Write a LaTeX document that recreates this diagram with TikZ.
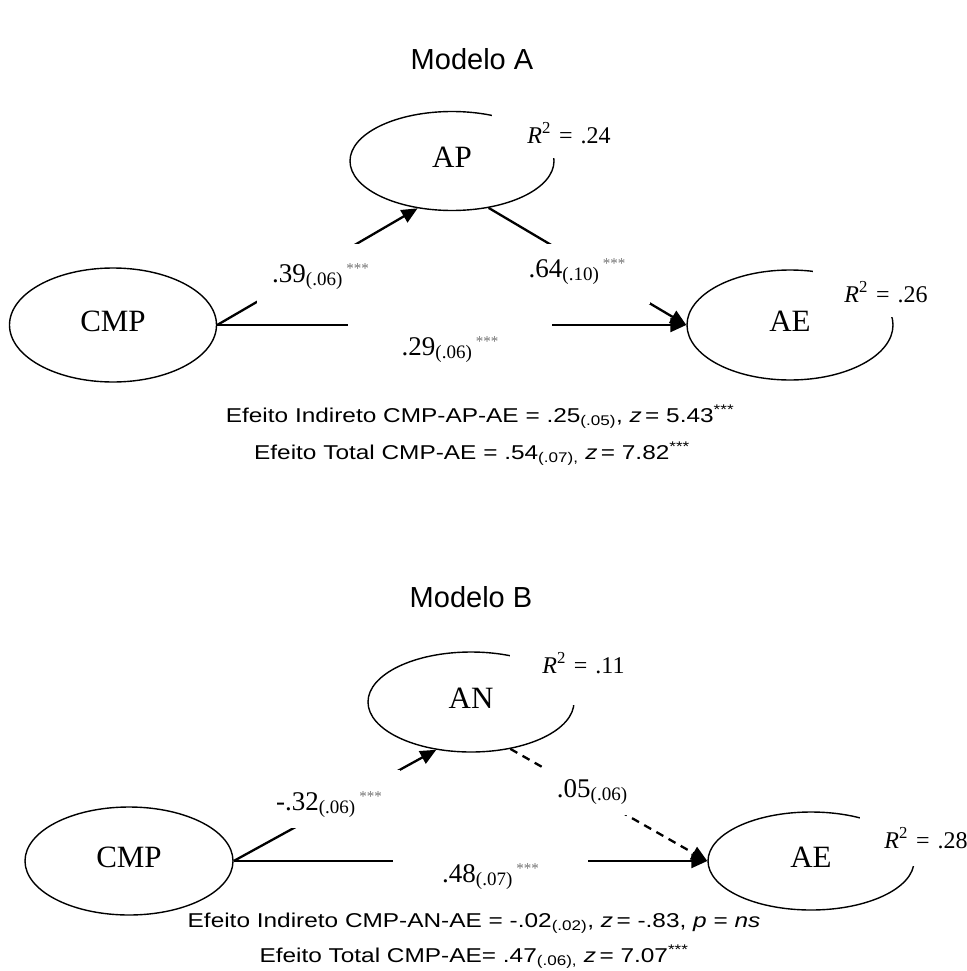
\documentclass[tikz,border=0pt]{standalone}
\usepackage{fontspec}
\setmainfont{Liberation Serif}
\newfontfamily\arialfont{Liberation Sans}
\newfontfamily\arialwide[FakeStretch=1.22]{Liberation Sans}
\usepackage{tikz}
\usetikzlibrary{arrows.meta,positioning,shapes.geometric}
\definecolor{stargray}{gray}{0.45}
\newcommand{\lowtxt}[1]{\raisebox{-3pt}{\fontsize{19}{19}\selectfont #1}}
\newcommand{\stars}{\hspace{4pt}\raisebox{9pt}{\fontsize{15}{15}\selectfont\textcolor{stargray}{***}}}
\newcommand{\rsq}[1]{\textit{R}\textsuperscript{2} = #1}

\begin{document}
\begin{tikzpicture}[x=1pt,y=-1pt,>={Triangle[length=16pt,width=14pt]},
  latent node/.style={ellipse,draw,line width=1.4pt,inner sep=0pt,minimum width=206pt,
    minimum height=100pt,text depth=8pt,font=\fontsize{31}{31}\selectfont},
  coef node/.style={fill=white,inner sep=0pt,align=center,anchor=base,
    font=\fontsize{27}{27}\selectfont},
  rsq node/.style={fill=white,inner sep=0pt,align=center,anchor=base,
    font=\fontsize{24}{24}\selectfont},
  title node/.style={anchor=base,font=\arialfont\fontsize{29}{29}\selectfont},
  effect node/.style={anchor=base,font=\arialwide\fontsize{20}{20}\selectfont},
  path line/.style={line width=2.3pt}]
  \useasboundingbox (0,0) rectangle (966,971);

  % Modelo A
  \node[title node] (titleA) at (472,70) {Modelo A};
  \node[latent node,minimum width=207pt,minimum height=114pt] (cmpA) at (113,325) {CMP};
  \node[latent node,minimum width=204pt,minimum height=99pt] (ap) [on grid,above right=164pt and 339pt of cmpA] {AP};
  \node[latent node,minimum height=110pt] (aeA) [on grid,right=677pt of cmpA] {AE};

  \path[path line,->]
    (cmpA.east) edge (ap.234)
    (ap.308) edge (aeA.west)
    (cmpA.east) edge (aeA.west);

  \node[coef node,text width=127pt,text height=38pt,text depth=22pt] (coefA1) at (320.5,282) {.39\lowtxt{(.06)}\stars};
  \node[coef node,text width=146pt,text height=33pt,text depth=27pt] (coefA2) at (577,277) {.64\lowtxt{(.10)}\stars};
  \node[coef node,text width=204pt,text height=37pt,text depth=10pt] (coefA3) at (450,355) {.29\lowtxt{(.06)}\stars};
  \node[rsq node,text width=154pt,text height=35pt,text depth=15pt] (rsqA1) at (569,143) {\rsq{.24}};
  \node[rsq node,text width=146pt,text height=37pt,text depth=15pt] (rsqA2) at (886,302) {\rsq{.26}};

  \node[effect node] (indA) at (480,422) {Efeito Indireto CMP-AP-AE = .25\textsubscript{(.05)}, \textit{z}\,= 5.43\textsuperscript{***}};
  \node[effect node] (totA) at (472,459) {Efeito Total CMP-AE = .54\textsubscript{(.07),} \textit{z}\,= 7.82\textsuperscript{***}};

  % Modelo B
  \node[title node] (titleB) at (471,607) {Modelo B};
  \node[latent node,minimum width=208pt,minimum height=108pt] (cmpB) at (129,861) {CMP};
  \node[latent node] (an) [on grid,above right=159pt and 342pt of cmpB] {AN};
  \node[latent node,minimum height=98pt] (aeB) [on grid,right=682pt of cmpB] {AE};

  \path[path line,->]
    (cmpB.east) edge (an.234)
    (an.310) edge[dash pattern=on 8pt off 6pt] (aeB.west)
    (cmpB.east) edge (aeB.west);

  \node[coef node,text width=142pt,text height=40pt,text depth=18pt] (coefB1) at (329,810) {-.32\lowtxt{(.06)}\stars};
  \node[coef node,text width=94pt,text height=32pt,text depth=18pt] (coefB2) at (592,797) {.05\lowtxt{(.06)}};
  \node[coef node,text width=195pt,text height=27pt,text depth=8pt] (coefB3) at (490.5,882) {.48\lowtxt{(.07)}\stars};
  \node[rsq node,text width=147pt,text height=23pt,text depth=32pt] (rsqB1) at (583.5,673) {\rsq{.11}};
  \node[rsq node,text width=132pt,text height=43pt,text depth=18pt] (rsqB2) at (926,848) {\rsq{.28}};

  \node[effect node] (indB) at (474,927) {Efeito Indireto CMP-AN-AE = -.02\textsubscript{(.02)}, \textit{z}\,= -.83, \textit{p} = \textit{ns}};
  \node[effect node] (totB) at (474,962) {Efeito Total CMP-AE= .47\textsubscript{(.06),} \textit{z}\,= 7.07\textsuperscript{***}};
\end{tikzpicture}
\end{document}
